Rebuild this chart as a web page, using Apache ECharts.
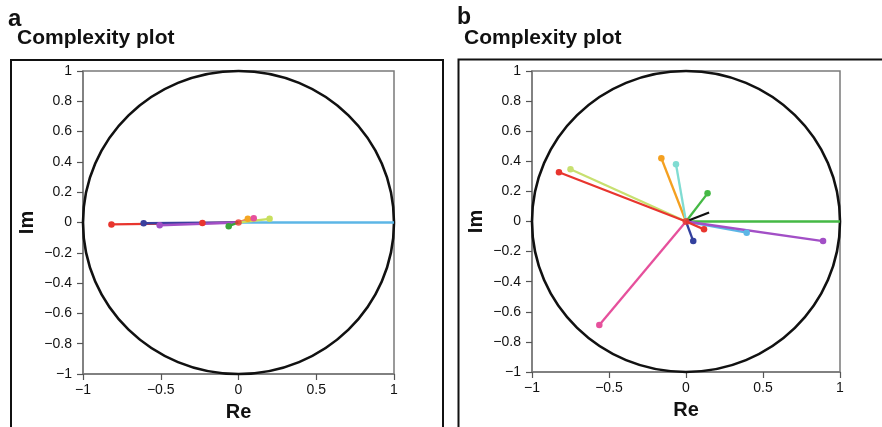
<!DOCTYPE html>
<html>
<head>
<meta charset="utf-8">
<style>
html,body{margin:0;padding:0;background:#fff;}
#c{width:882px;height:427px;}
</style>
<script src="https://cdn.jsdelivr.net/npm/echarts@6/dist/echarts.min.js"></script>
</head>
<body>
<div id="c"></div>
<script>
// ---- data ----
const xTicks = [-1, -0.5, 0, 0.5, 1];
const yTicks = [-1, -0.8, -0.6, -0.4, -0.2, 0, 0.2, 0.4, 0.6, 0.8, 1];
const unitRadius = [1];

// panel a: endpoints of vectors from origin
const aNames = ['lightblue', 'red', 'navy', 'purple', 'green', 'orange', 'pink', 'yellowgreen'];
const aRe = [1.0, -0.817, -0.61, -0.507, -0.063, 0.06, 0.098, 0.2];
const aIm = [0.0, -0.013, -0.005, -0.018, -0.024, 0.024, 0.028, 0.024];
const aMidRe = [-0.232];   // extra red point on the red vector
const aMidIm = [-0.004];

// panel b
const bNames = ['green', 'yellowgreen', 'red', 'orange', 'aquamarine', 'green2', 'black', 'lightblue', 'purple', 'navy', 'pink', 'red2'];
const bRe = [1.0, -0.75, -0.825, -0.16, -0.065, 0.14, 0.15, 0.394, 0.89, 0.047, -0.563, 0.117];
const bIm = [0.0, 0.347, 0.327, 0.42, 0.38, 0.187, 0.06, -0.074, -0.13, -0.13, -0.688, -0.052];

// ---- styles ----
const aColors = ['#5cb6e6', '#e8352e', '#3a3f9e', '#a24fc6', '#3aa63a', '#f4a623', '#e6509c', '#c8df5e'];
const bColors = ['#45b945', '#c8e070', '#e8352e', '#f4a020', '#80dcd2', '#45b945', '#111111', '#5cb6e6', '#a24fc6', '#33409e', '#e6509c', '#e8352e'];
const bShowEnd = [false, true, true, true, true, true, false, true, true, true, true, true];

const FONT = "'Liberation Sans', Arial, Helvetica, sans-serif";

function fmt(v) {
  const r = Math.round(v * 10) / 10;
  if (r === 0) return '0';
  return (r < 0 ? '\u2212' : '') + String(Math.abs(r));
}

function makeAxes(gi) {
  const axisCommon = {
    gridIndex: gi,
    min: -1, max: 1,
    axisLine: { show: true, onZero: false, lineStyle: { color: '#7a7a7a', width: 1.5 } },
    axisTick: { show: true, length: 6, lineStyle: { color: '#555', width: 1.2 } },
    splitLine: { show: false },
    axisLabel: { color: '#111', fontFamily: FONT, fontSize: 14, formatter: fmt },
    nameTextStyle: { color: '#111', fontFamily: FONT, fontSize: 20, fontWeight: 'bold' }
  };
  const x = Object.assign({}, axisCommon, {
    type: 'value', interval: xTicks[1] - xTicks[0], name: 'Re',
    nameLocation: 'middle', nameGap: 28,
    axisLabel: Object.assign({}, axisCommon.axisLabel, { margin: 9 })
  });
  const y = Object.assign({}, axisCommon, {
    type: 'value', interval: Math.round((yTicks[1] - yTicks[0]) * 10) / 10, name: 'Im',
    nameLocation: 'middle', nameGap: 46, nameRotate: 90,
    axisLabel: Object.assign({}, axisCommon.axisLabel, { margin: 11 })
  });
  return [x, y];
}

const axA = makeAxes(0), axB = makeAxes(1);

function circleSeries(ai) {
  return {
    type: 'custom', xAxisIndex: ai, yAxisIndex: ai, silent: true, z: 3,
    clip: false,
    data: [[0, 0, unitRadius[0]]],
    renderItem: function (params, api) {
      const c = api.coord([api.value(0), api.value(1)]);
      const r = api.value(2);
      const e = api.coord([api.value(0) + r, api.value(1) + r]);
      return {
        type: 'ellipse',
        shape: { cx: c[0], cy: c[1], rx: e[0] - c[0], ry: c[1] - e[1] },
        style: { fill: 'none', stroke: '#111', lineWidth: 2.6 }
      };
    }
  };
}

function vec(ai, re, im, color, showEnd, extra) {
  const data = [{ value: [0, 0], symbol: 'none' }];
  (extra || []).forEach(p => data.push({ value: p }));
  data.push({ value: [re, im], symbol: showEnd ? 'circle' : 'none' });
  return {
    type: 'line', xAxisIndex: ai, yAxisIndex: ai, silent: true, z: 5,
    data: data, symbol: 'circle', symbolSize: 6.5, showAllSymbol: true,
    lineStyle: { color: color, width: 2.3 },
    itemStyle: { color: color, borderWidth: 0 },
    animation: false
  };
}

const series = [circleSeries(0), circleSeries(1)];
aRe.forEach((re, i) => {
  const extra = aNames[i] === 'red' ? aMidRe.map((r, k) => [r, aMidIm[k]]) : null;
  series.push(vec(0, re, aIm[i], aColors[i], aNames[i] !== 'lightblue', extra));
});
// origin dots
series.push({ type: 'scatter', xAxisIndex: 0, yAxisIndex: 0, z: 6, symbolSize: 6.5, itemStyle: { color: '#e8352e' }, data: [[0, 0]] });
bRe.forEach((re, i) => {
  series.push(vec(1, re, bIm[i], bColors[i], bShowEnd[i]));
});
series.push({ type: 'scatter', xAxisIndex: 1, yAxisIndex: 1, z: 6, symbolSize: 7, itemStyle: { color: '#e8352e' }, data: [[0, 0]] });

const chart = echarts.init(document.getElementById('c'), null, { renderer: 'canvas' });
chart.setOption({
  animation: false,
  backgroundColor: '#fff',
  grid: [
    { left: 83, top: 71, width: 311, height: 304, show: true, borderColor: '#7a7a7a', borderWidth: 1.5, backgroundColor: 'transparent' },
    { left: 532, top: 71, width: 308, height: 301, show: true, borderColor: '#7a7a7a', borderWidth: 1.5, backgroundColor: 'transparent' }
  ],
  xAxis: [axA[0], axB[0]],
  yAxis: [axA[1], axB[1]],
  graphic: [
    { type: 'rect', shape: { x: 11, y: 60, width: 432, height: 400 }, style: { fill: 'none', stroke: '#111', lineWidth: 2 }, z: 0 },
    { type: 'rect', shape: { x: 458.5, y: 59.5, width: 440, height: 400 }, style: { fill: 'none', stroke: '#111', lineWidth: 2 }, z: 0 },
    { type: 'text', left: 8, top: 7, style: { text: 'a', font: "bold 24px " + FONT, fill: '#111' } },
    { type: 'text', left: 457, top: 6, style: { text: 'b', font: "bold 23px " + FONT, fill: '#111' } },
    { type: 'text', left: 17, top: 28, style: { text: 'Complexity plot', font: "bold 21px " + FONT, fill: '#111' } },
    { type: 'text', left: 464, top: 28, style: { text: 'Complexity plot', font: "bold 21px " + FONT, fill: '#111' } }
  ],
  series: series
});
</script>
</body>
</html>
